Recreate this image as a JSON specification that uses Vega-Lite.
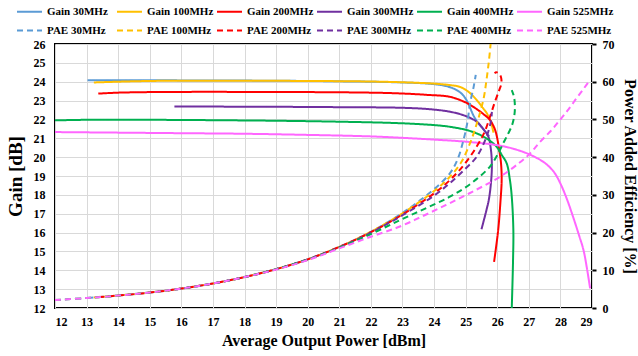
{
  "$schema": "https://vega.github.io/schema/vega-lite/v6.json",
  "width": 537,
  "height": 264,
  "autosize": {"type": "none"},
  "padding": {"left": 55, "top": 44, "right": 46, "bottom": 48},
  "background": "white",
  "config": {
    "font": "Liberation Serif",
    "view": {"stroke": "black", "strokeWidth": 2},
    "axis": {
      "labelFont": "Liberation Serif", "labelFontWeight": "bold", "labelFontSize": 12, "labelColor": "black",
      "titleFont": "Liberation Serif", "titleFontWeight": "bold", "titleColor": "black",
      "gridColor": "#D9D9D9", "gridWidth": 1, "domain": false, "ticks": false
    },
    "legend": {
      "orient": "none", "legendX": -39, "legendY": -46, "direction": "horizontal", "columns": 6,
      "symbolType": "stroke", "symbolSize": 625, "symbolStrokeWidth": 2,
      "labelFont": "Liberation Serif", "labelFontWeight": "bold", "labelFontSize": 11, "labelColor": "black",
      "gridAlign": "all", "columnPadding": -1, "rowPadding": -10, "labelOffset": 4, "title": null
    }
  },
  "data": {"values": [
    {"s":"Gain 30MHz","k":"G","x":13.03,"y":24.08},{"s":"Gain 30MHz","k":"G","x":14,"y":24.08},{"s":"Gain 30MHz","k":"G","x":15,"y":24.08},{"s":"Gain 30MHz","k":"G","x":16,"y":24.07},{"s":"Gain 30MHz","k":"G","x":17,"y":24.07},{"s":"Gain 30MHz","k":"G","x":18,"y":24.06},{"s":"Gain 30MHz","k":"G","x":19,"y":24.05},{"s":"Gain 30MHz","k":"G","x":20,"y":24.04},{"s":"Gain 30MHz","k":"G","x":21,"y":24.02},{"s":"Gain 30MHz","k":"G","x":22,"y":24.0},{"s":"Gain 30MHz","k":"G","x":23,"y":23.96},{"s":"Gain 30MHz","k":"G","x":23.8,"y":23.9},{"s":"Gain 30MHz","k":"G","x":24.3,"y":23.8},{"s":"Gain 30MHz","k":"G","x":24.6,"y":23.65},{"s":"Gain 30MHz","k":"G","x":24.85,"y":23.4},{"s":"Gain 30MHz","k":"G","x":25.0,"y":23.1},{"s":"Gain 30MHz","k":"G","x":25.12,"y":22.7},{"s":"Gain 30MHz","k":"G","x":25.25,"y":22.2},{"s":"Gain 30MHz","k":"G","x":25.4,"y":21.8},{"s":"Gain 30MHz","k":"G","x":25.6,"y":21.4},{"s":"Gain 30MHz","k":"G","x":25.75,"y":21.1},

    {"s":"Gain 100MHz","k":"G","x":13.23,"y":23.96},{"s":"Gain 100MHz","k":"G","x":14,"y":24.0},{"s":"Gain 100MHz","k":"G","x":15,"y":24.04},{"s":"Gain 100MHz","k":"G","x":16,"y":24.05},{"s":"Gain 100MHz","k":"G","x":18,"y":24.05},{"s":"Gain 100MHz","k":"G","x":20,"y":24.04},{"s":"Gain 100MHz","k":"G","x":22,"y":24.01},{"s":"Gain 100MHz","k":"G","x":23,"y":23.97},{"s":"Gain 100MHz","k":"G","x":24,"y":23.9},{"s":"Gain 100MHz","k":"G","x":24.5,"y":23.82},{"s":"Gain 100MHz","k":"G","x":24.83,"y":23.72},{"s":"Gain 100MHz","k":"G","x":25.1,"y":23.45},{"s":"Gain 100MHz","k":"G","x":25.35,"y":23.03},{"s":"Gain 100MHz","k":"G","x":25.55,"y":22.6},{"s":"Gain 100MHz","k":"G","x":25.67,"y":22.33},{"s":"Gain 100MHz","k":"G","x":25.8,"y":21.85},{"s":"Gain 100MHz","k":"G","x":25.88,"y":21.3},

    {"s":"Gain 200MHz","k":"G","x":13.37,"y":23.37},{"s":"Gain 200MHz","k":"G","x":14,"y":23.42},{"s":"Gain 200MHz","k":"G","x":15,"y":23.45},{"s":"Gain 200MHz","k":"G","x":16,"y":23.46},{"s":"Gain 200MHz","k":"G","x":18,"y":23.46},{"s":"Gain 200MHz","k":"G","x":20,"y":23.45},{"s":"Gain 200MHz","k":"G","x":22,"y":23.42},{"s":"Gain 200MHz","k":"G","x":22.92,"y":23.38},{"s":"Gain 200MHz","k":"G","x":23.8,"y":23.3},{"s":"Gain 200MHz","k":"G","x":24.5,"y":23.2},{"s":"Gain 200MHz","k":"G","x":25.0,"y":22.9},{"s":"Gain 200MHz","k":"G","x":25.24,"y":22.67},{"s":"Gain 200MHz","k":"G","x":25.55,"y":22.3},{"s":"Gain 200MHz","k":"G","x":25.77,"y":21.97},{"s":"Gain 200MHz","k":"G","x":25.92,"y":21.5},{"s":"Gain 200MHz","k":"G","x":25.99,"y":21.08},{"s":"Gain 200MHz","k":"G","x":26.07,"y":20.3},{"s":"Gain 200MHz","k":"G","x":26.12,"y":19.67},{"s":"Gain 200MHz","k":"G","x":26.14,"y":18.8},{"s":"Gain 200MHz","k":"G","x":26.1,"y":17.6},{"s":"Gain 200MHz","k":"G","x":26.03,"y":16.14},{"s":"Gain 200MHz","k":"G","x":25.9,"y":14.45},

    {"s":"Gain 300MHz","k":"G","x":15.78,"y":22.68},{"s":"Gain 300MHz","k":"G","x":17,"y":22.68},{"s":"Gain 300MHz","k":"G","x":19,"y":22.67},{"s":"Gain 300MHz","k":"G","x":21,"y":22.65},{"s":"Gain 300MHz","k":"G","x":22.92,"y":22.62},{"s":"Gain 300MHz","k":"G","x":23.8,"y":22.55},{"s":"Gain 300MHz","k":"G","x":24.5,"y":22.41},{"s":"Gain 300MHz","k":"G","x":25.0,"y":22.18},{"s":"Gain 300MHz","k":"G","x":25.35,"y":21.88},{"s":"Gain 300MHz","k":"G","x":25.6,"y":21.4},{"s":"Gain 300MHz","k":"G","x":25.72,"y":21.08},{"s":"Gain 300MHz","k":"G","x":25.8,"y":20.4},{"s":"Gain 300MHz","k":"G","x":25.83,"y":19.6},{"s":"Gain 300MHz","k":"G","x":25.81,"y":18.8},{"s":"Gain 300MHz","k":"G","x":25.74,"y":17.8},{"s":"Gain 300MHz","k":"G","x":25.66,"y":17.2},{"s":"Gain 300MHz","k":"G","x":25.5,"y":16.17},

    {"s":"Gain 400MHz","k":"G","x":12,"y":21.95},{"s":"Gain 400MHz","k":"G","x":13,"y":21.98},{"s":"Gain 400MHz","k":"G","x":15,"y":21.98},{"s":"Gain 400MHz","k":"G","x":17,"y":21.96},{"s":"Gain 400MHz","k":"G","x":19,"y":21.93},{"s":"Gain 400MHz","k":"G","x":21,"y":21.88},{"s":"Gain 400MHz","k":"G","x":22.92,"y":21.8},{"s":"Gain 400MHz","k":"G","x":24,"y":21.7},{"s":"Gain 400MHz","k":"G","x":24.5,"y":21.61},{"s":"Gain 400MHz","k":"G","x":25.0,"y":21.45},{"s":"Gain 400MHz","k":"G","x":25.35,"y":21.26},{"s":"Gain 400MHz","k":"G","x":25.7,"y":20.95},{"s":"Gain 400MHz","k":"G","x":25.98,"y":20.55},{"s":"Gain 400MHz","k":"G","x":26.15,"y":20.1},{"s":"Gain 400MHz","k":"G","x":26.3,"y":19.67},{"s":"Gain 400MHz","k":"G","x":26.4,"y":18.8},{"s":"Gain 400MHz","k":"G","x":26.46,"y":17.9},{"s":"Gain 400MHz","k":"G","x":26.51,"y":16.14},{"s":"Gain 400MHz","k":"G","x":26.5,"y":14.5},{"s":"Gain 400MHz","k":"G","x":26.46,"y":12.0},

    {"s":"Gain 525MHz","k":"G","x":12,"y":21.33},{"s":"Gain 525MHz","k":"G","x":14,"y":21.3},{"s":"Gain 525MHz","k":"G","x":16,"y":21.27},{"s":"Gain 525MHz","k":"G","x":18,"y":21.24},{"s":"Gain 525MHz","k":"G","x":20,"y":21.18},{"s":"Gain 525MHz","k":"G","x":22,"y":21.1},{"s":"Gain 525MHz","k":"G","x":22.92,"y":21.03},{"s":"Gain 525MHz","k":"G","x":24,"y":20.93},{"s":"Gain 525MHz","k":"G","x":25,"y":20.82},{"s":"Gain 525MHz","k":"G","x":25.98,"y":20.64},{"s":"Gain 525MHz","k":"G","x":26.5,"y":20.45},{"s":"Gain 525MHz","k":"G","x":27.04,"y":20.13},{"s":"Gain 525MHz","k":"G","x":27.5,"y":19.7},{"s":"Gain 525MHz","k":"G","x":27.8,"y":19.2},{"s":"Gain 525MHz","k":"G","x":28.0,"y":18.6},{"s":"Gain 525MHz","k":"G","x":28.2,"y":17.8},{"s":"Gain 525MHz","k":"G","x":28.4,"y":16.84},{"s":"Gain 525MHz","k":"G","x":28.6,"y":15.8},{"s":"Gain 525MHz","k":"G","x":28.73,"y":15.08},{"s":"Gain 525MHz","k":"G","x":28.85,"y":14.0},{"s":"Gain 525MHz","k":"G","x":28.94,"y":13.04},

    {"s":"PAE 30MHz","k":"P","x":13.03,"y":2.67},{"s":"PAE 30MHz","k":"P","x":14,"y":3.3},{"s":"PAE 30MHz","k":"P","x":15,"y":4.1},{"s":"PAE 30MHz","k":"P","x":16,"y":5.15},{"s":"PAE 30MHz","k":"P","x":17,"y":6.5},{"s":"PAE 30MHz","k":"P","x":18,"y":8.2},{"s":"PAE 30MHz","k":"P","x":19,"y":10.3},{"s":"PAE 30MHz","k":"P","x":20,"y":12.9},{"s":"PAE 30MHz","k":"P","x":21,"y":16.2},{"s":"PAE 30MHz","k":"P","x":22,"y":20.2},{"s":"PAE 30MHz","k":"P","x":23,"y":25.2},{"s":"PAE 30MHz","k":"P","x":23.5,"y":28.2},{"s":"PAE 30MHz","k":"P","x":24,"y":31.5},{"s":"PAE 30MHz","k":"P","x":24.5,"y":35.7},{"s":"PAE 30MHz","k":"P","x":24.75,"y":39.5},{"s":"PAE 30MHz","k":"P","x":24.93,"y":44.5},{"s":"PAE 30MHz","k":"P","x":25.05,"y":49},{"s":"PAE 30MHz","k":"P","x":25.14,"y":54.3},{"s":"PAE 30MHz","k":"P","x":25.25,"y":58.5},{"s":"PAE 30MHz","k":"P","x":25.32,"y":61.8},

    {"s":"PAE 100MHz","k":"P","x":13.23,"y":2.8},{"s":"PAE 100MHz","k":"P","x":14,"y":3.3},{"s":"PAE 100MHz","k":"P","x":15,"y":4.1},{"s":"PAE 100MHz","k":"P","x":16,"y":5.15},{"s":"PAE 100MHz","k":"P","x":17,"y":6.5},{"s":"PAE 100MHz","k":"P","x":18,"y":8.2},{"s":"PAE 100MHz","k":"P","x":19,"y":10.3},{"s":"PAE 100MHz","k":"P","x":20,"y":12.9},{"s":"PAE 100MHz","k":"P","x":21,"y":16.2},{"s":"PAE 100MHz","k":"P","x":22,"y":20.2},{"s":"PAE 100MHz","k":"P","x":23,"y":25.1},{"s":"PAE 100MHz","k":"P","x":24,"y":31.0},{"s":"PAE 100MHz","k":"P","x":24.5,"y":34.8},{"s":"PAE 100MHz","k":"P","x":24.85,"y":38.5},{"s":"PAE 100MHz","k":"P","x":25.14,"y":43.7},{"s":"PAE 100MHz","k":"P","x":25.3,"y":47.5},{"s":"PAE 100MHz","k":"P","x":25.45,"y":51.6},{"s":"PAE 100MHz","k":"P","x":25.58,"y":56},{"s":"PAE 100MHz","k":"P","x":25.66,"y":60.5},{"s":"PAE 100MHz","k":"P","x":25.73,"y":65},{"s":"PAE 100MHz","k":"P","x":25.79,"y":70},

    {"s":"PAE 200MHz","k":"P","x":13.37,"y":2.9},{"s":"PAE 200MHz","k":"P","x":14,"y":3.3},{"s":"PAE 200MHz","k":"P","x":15,"y":4.1},{"s":"PAE 200MHz","k":"P","x":16,"y":5.15},{"s":"PAE 200MHz","k":"P","x":17,"y":6.5},{"s":"PAE 200MHz","k":"P","x":18,"y":8.2},{"s":"PAE 200MHz","k":"P","x":19,"y":10.3},{"s":"PAE 200MHz","k":"P","x":20,"y":12.9},{"s":"PAE 200MHz","k":"P","x":21,"y":16.2},{"s":"PAE 200MHz","k":"P","x":22,"y":20.1},{"s":"PAE 200MHz","k":"P","x":23,"y":24.8},{"s":"PAE 200MHz","k":"P","x":24,"y":30.4},{"s":"PAE 200MHz","k":"P","x":24.5,"y":33.9},{"s":"PAE 200MHz","k":"P","x":24.95,"y":38},{"s":"PAE 200MHz","k":"P","x":25.35,"y":42.8},{"s":"PAE 200MHz","k":"P","x":25.6,"y":46.7},{"s":"PAE 200MHz","k":"P","x":25.77,"y":50.7},{"s":"PAE 200MHz","k":"P","x":25.92,"y":54.5},{"s":"PAE 200MHz","k":"P","x":26.05,"y":57.5},{"s":"PAE 200MHz","k":"P","x":26.13,"y":59.5},{"s":"PAE 200MHz","k":"P","x":26.12,"y":61.2},{"s":"PAE 200MHz","k":"P","x":26.05,"y":62.2},{"s":"PAE 200MHz","k":"P","x":25.96,"y":62.5},{"s":"PAE 200MHz","k":"P","x":25.92,"y":62.2},

    {"s":"PAE 300MHz","k":"P","x":15.78,"y":4.9},{"s":"PAE 300MHz","k":"P","x":16,"y":5.15},{"s":"PAE 300MHz","k":"P","x":17,"y":6.5},{"s":"PAE 300MHz","k":"P","x":18,"y":8.2},{"s":"PAE 300MHz","k":"P","x":19,"y":10.3},{"s":"PAE 300MHz","k":"P","x":20,"y":12.9},{"s":"PAE 300MHz","k":"P","x":21,"y":16.1},{"s":"PAE 300MHz","k":"P","x":22,"y":20.0},{"s":"PAE 300MHz","k":"P","x":23,"y":24.6},{"s":"PAE 300MHz","k":"P","x":24,"y":29.8},{"s":"PAE 300MHz","k":"P","x":24.5,"y":33.1},{"s":"PAE 300MHz","k":"P","x":25.0,"y":37},{"s":"PAE 300MHz","k":"P","x":25.35,"y":40.1},{"s":"PAE 300MHz","k":"P","x":25.66,"y":45.4},{"s":"PAE 300MHz","k":"P","x":25.8,"y":49.5},{"s":"PAE 300MHz","k":"P","x":25.83,"y":52},

    {"s":"PAE 400MHz","k":"P","x":12,"y":2.1},{"s":"PAE 400MHz","k":"P","x":13,"y":2.65},{"s":"PAE 400MHz","k":"P","x":14,"y":3.3},{"s":"PAE 400MHz","k":"P","x":15,"y":4.1},{"s":"PAE 400MHz","k":"P","x":16,"y":5.15},{"s":"PAE 400MHz","k":"P","x":17,"y":6.5},{"s":"PAE 400MHz","k":"P","x":18,"y":8.2},{"s":"PAE 400MHz","k":"P","x":19,"y":10.3},{"s":"PAE 400MHz","k":"P","x":20,"y":12.8},{"s":"PAE 400MHz","k":"P","x":21,"y":16.0},{"s":"PAE 400MHz","k":"P","x":22,"y":19.6},{"s":"PAE 400MHz","k":"P","x":22.92,"y":23.3},{"s":"PAE 400MHz","k":"P","x":23.7,"y":26.3},{"s":"PAE 400MHz","k":"P","x":24.5,"y":29.5},{"s":"PAE 400MHz","k":"P","x":25.2,"y":33.2},{"s":"PAE 400MHz","k":"P","x":25.77,"y":37.5},{"s":"PAE 400MHz","k":"P","x":26.0,"y":40.5},{"s":"PAE 400MHz","k":"P","x":26.19,"y":43.7},{"s":"PAE 400MHz","k":"P","x":26.35,"y":46.3},{"s":"PAE 400MHz","k":"P","x":26.47,"y":48.5},{"s":"PAE 400MHz","k":"P","x":26.54,"y":51},{"s":"PAE 400MHz","k":"P","x":26.56,"y":53.4},{"s":"PAE 400MHz","k":"P","x":26.53,"y":56},{"s":"PAE 400MHz","k":"P","x":26.46,"y":57.8},

    {"s":"PAE 525MHz","k":"P","x":12,"y":2.1},{"s":"PAE 525MHz","k":"P","x":13,"y":2.65},{"s":"PAE 525MHz","k":"P","x":14,"y":3.3},{"s":"PAE 525MHz","k":"P","x":15,"y":4.1},{"s":"PAE 525MHz","k":"P","x":16,"y":5.15},{"s":"PAE 525MHz","k":"P","x":17,"y":6.5},{"s":"PAE 525MHz","k":"P","x":18,"y":8.2},{"s":"PAE 525MHz","k":"P","x":19,"y":10.2},{"s":"PAE 525MHz","k":"P","x":20,"y":12.7},{"s":"PAE 525MHz","k":"P","x":21,"y":15.8},{"s":"PAE 525MHz","k":"P","x":22,"y":18.9},{"s":"PAE 525MHz","k":"P","x":22.92,"y":21.6},{"s":"PAE 525MHz","k":"P","x":23.7,"y":24.6},{"s":"PAE 525MHz","k":"P","x":24.5,"y":27.8},{"s":"PAE 525MHz","k":"P","x":25.3,"y":31.2},{"s":"PAE 525MHz","k":"P","x":26.09,"y":34.8},{"s":"PAE 525MHz","k":"P","x":26.7,"y":38.5},{"s":"PAE 525MHz","k":"P","x":27.04,"y":41},{"s":"PAE 525MHz","k":"P","x":27.35,"y":44},{"s":"PAE 525MHz","k":"P","x":27.7,"y":47},{"s":"PAE 525MHz","k":"P","x":27.98,"y":49.8},{"s":"PAE 525MHz","k":"P","x":28.25,"y":52.6},{"s":"PAE 525MHz","k":"P","x":28.51,"y":55.6},{"s":"PAE 525MHz","k":"P","x":28.75,"y":58.3},{"s":"PAE 525MHz","k":"P","x":28.94,"y":60.5}
  ]},
  "transform": [{"window": [{"op": "row_number", "as": "o"}]}],
  "encoding": {
    "x": {"field": "x", "type": "quantitative",
      "scale": {"domain": [12, 29], "nice": false, "zero": false},
      "axis": {"values": [12,13,14,15,16,17,18,19,20,21,22,23,24,25,26,27,28,29], "grid": true, "labelPadding": 8, "title": "Average Output Power [dBm]", "titleFontSize": 16, "titlePadding": 5}},
    "order": {"field": "o", "type": "quantitative"},
    "color": {"field": "s", "type": "nominal",
      "scale": {"domain": ["Gain 30MHz","Gain 100MHz","Gain 200MHz","Gain 300MHz","Gain 400MHz","Gain 525MHz","PAE 30MHz","PAE 100MHz","PAE 200MHz","PAE 300MHz","PAE 400MHz","PAE 525MHz"],
        "range": ["#5B9BD5","#FFC000","#FF0000","#7030A0","#00B050","#FF66FF","#5B9BD5","#FFC000","#FF0000","#7030A0","#00B050","#FF66FF"]}},
    "strokeDash": {"field": "s", "type": "nominal",
      "scale": {"domain": ["Gain 30MHz","Gain 100MHz","Gain 200MHz","Gain 300MHz","Gain 400MHz","Gain 525MHz","PAE 30MHz","PAE 100MHz","PAE 200MHz","PAE 300MHz","PAE 400MHz","PAE 525MHz"],
        "range": [[1,0],[1,0],[1,0],[1,0],[1,0],[1,0],[6,4],[6,4],[6,4],[6,4],[6,4],[6,4]]}}
  },
  "layer": [
    {
      "transform": [{"filter": "datum.k === 'G'"}],
      "mark": {"type": "line", "strokeWidth": 2, "interpolate": "catmull-rom"},
      "encoding": {
        "y": {"field": "y", "type": "quantitative",
          "scale": {"domain": [12, 26], "nice": false, "zero": false},
          "axis": {"orient": "left", "values": [12,13,14,15,16,17,18,19,20,21,22,23,24,25,26], "grid": true, "labelPadding": 10, "title": "Gain [dB]", "titleFontSize": 19, "titlePadding": 8}}
      }
    },
    {
      "transform": [{"filter": "datum.k === 'P'"}],
      "mark": {"type": "line", "strokeWidth": 2, "interpolate": "catmull-rom"},
      "encoding": {
        "y": {"field": "y", "type": "quantitative",
          "scale": {"domain": [0, 70], "nice": false, "zero": true},
          "axis": {"orient": "right", "values": [0,10,20,30,40,50,60,70], "grid": false, "ticks": true, "tickSize": 4, "tickColor": "black", "tickWidth": 2, "labelPadding": 6, "title": "Power Added Efficiency [%]", "titleFontSize": 16, "titlePadding": 7}}
      }
    }
  ],
  "resolve": {"scale": {"y": "independent"}}
}
